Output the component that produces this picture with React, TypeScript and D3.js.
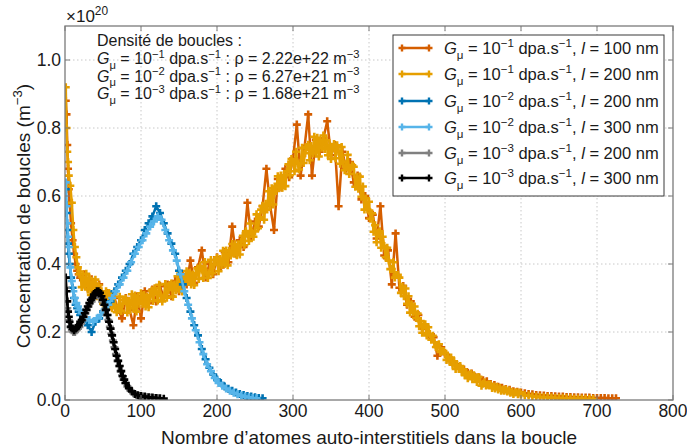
import React from 'react';
import * as d3 from 'd3';

const W = 687;
const H = 448;
const M = { left: 65, right: 14, top: 26, bottom: 48 };

const X_TICKS = [0, 100, 200, 300, 400, 500, 600, 700, 800];
const Y_TICKS = [0, 0.2, 0.4, 0.6, 0.8, 1.0];
const X_DOMAIN = [0, 800];
const Y_DOMAIN = [0, 1.1];

// loop sizes (number of self-interstitial atoms), G = 1e-1, l = 100 nm
const N_G1_L100 = [1, 2, 3, 4, 5, 6, 8, 10, 12, 14, 16, 18, 20,
  25, 30, 35, 40, 45, 50, 55, 60, 65, 70, 75, 80, 85, 90, 95, 100,
  105, 110, 115, 120, 125, 130, 135, 140, 145, 150, 155, 160, 165, 170, 175, 180, 185, 190, 195, 200,
  205, 210, 215, 220, 225, 230, 235, 240, 245, 250, 255, 260, 265, 270, 275, 280, 285, 290, 295, 300,
  305, 310, 315, 320, 325, 330, 335, 340, 345, 350, 355, 360, 365, 370, 375, 380, 385, 390, 395, 400,
  405, 410, 415, 420, 425, 430, 435, 440, 445, 450, 455, 460, 465, 470, 475, 480, 485, 490, 495, 500,
  505, 510, 515, 520, 525, 530, 535, 540, 545, 550, 555, 560, 565, 570, 575, 580, 585, 590, 595, 600,
  605, 610, 615, 620, 625, 630, 635, 640, 645, 650, 655, 660, 665, 670, 675, 680, 685, 690, 695, 700,
  705, 710, 715, 720, 725];

// concentrations in units of 1e20 m^-3
const G1_L100 = [0.88, 0.84, 0.75, 0.68, 0.62, 0.58, 0.52, 0.47, 0.43, 0.40, 0.38, 0.37, 0.36,
  0.37, 0.33, 0.355, 0.32, 0.34, 0.30, 0.315, 0.275, 0.30, 0.265, 0.24, 0.30, 0.265, 0.22, 0.305, 0.24,
  0.32, 0.285, 0.325, 0.29, 0.335, 0.30, 0.34, 0.305, 0.35, 0.32, 0.37, 0.34, 0.41, 0.345, 0.39, 0.44, 0.36, 0.40, 0.37, 0.42,
  0.39, 0.435, 0.405, 0.51, 0.43, 0.47, 0.45, 0.58, 0.48, 0.525, 0.51, 0.57, 0.68, 0.57, 0.50, 0.65, 0.625, 0.68, 0.655, 0.71,
  0.81, 0.66, 0.74, 0.84, 0.66, 0.765, 0.73, 0.77, 0.82, 0.72, 0.75, 0.57, 0.73, 0.68, 0.70, 0.64, 0.66, 0.59, 0.60, 0.535,
  0.545, 0.475, 0.57, 0.425, 0.44, 0.34, 0.49, 0.33, 0.335, 0.28, 0.29, 0.245, 0.25, 0.21, 0.215, 0.185, 0.185, 0.13, 0.155, 0.135,
  0.125, 0.11, 0.105, 0.095, 0.09, 0.08, 0.078, 0.067, 0.066, 0.058, 0.055, 0.047, 0.044, 0.039, 0.036, 0.032, 0.03, 0.026, 0.024, 0.022,
  0.02, 0.018, 0.017, 0.015, 0.014, 0.013, 0.012, 0.012, 0.011, 0.01, 0.01, 0.009, 0.009, 0.008, 0.008, 0.007, 0.007, 0.007, 0.006, 0.006,
  0.006, 0.006, 0.005, 0.005, 0.005];

// G = 1e-1, l = 200 nm
const N_G1_L200 = [1, 2, 3, 4, 5, 7, 9, 11, 13, 15, 17, 19,
  20, 22, 24, 26, 28, 30, 32, 34, 36, 38, 40, 42, 44, 46, 48, 50, 52, 54, 56, 58,
  60, 62, 64, 66, 68, 70, 72, 74, 76, 78, 80, 82, 84, 86, 88, 90, 92, 94, 96, 98,
  100, 102, 104, 106, 108, 110, 112, 114, 116, 118, 120, 122, 124, 126, 128, 130, 132, 134, 136, 138,
  140, 142, 144, 146, 148, 150, 152, 154, 156, 158, 160, 162, 164, 166, 168, 170, 172, 174, 176, 178,
  180, 182, 184, 186, 188, 190, 192, 194, 196, 198, 200, 202, 204, 206, 208, 210, 212, 214, 216, 218,
  220, 222, 224, 226, 228, 230, 232, 234, 236, 238, 240, 242, 244, 246, 248, 250, 252, 254, 256, 258,
  260, 262, 264, 266, 268, 270, 272, 274, 276, 278, 280, 282, 284, 286, 288, 290, 292, 294, 296, 298,
  300, 302, 304, 306, 308, 310, 312, 314, 316, 318, 320, 322, 324, 326, 328, 330, 332, 334, 336, 338,
  340, 342, 344, 346, 348, 350, 352, 354, 356, 358, 360, 362, 364, 366, 368, 370, 372, 374, 376, 378,
  380, 382, 384, 386, 388, 390, 392, 394, 396, 398, 400, 402, 404, 406, 408, 410, 412, 414, 416, 418,
  420, 422, 424, 426, 428, 430, 432, 434, 436, 438, 440, 442, 444, 446, 448, 450, 452, 454, 456, 458,
  460, 462, 464, 466, 468, 470, 472, 474, 476, 478, 480, 482, 484, 486, 488, 490, 492, 494, 496, 498,
  500, 502, 504, 506, 508, 510, 512, 514, 516, 518, 520, 522, 524, 526, 528, 530, 532, 534, 536, 538,
  540, 542, 544, 546, 548, 550, 552, 554, 556, 558, 560, 562, 564, 566, 568, 570, 572, 574, 576, 578,
  580, 582, 584, 586, 588, 590, 592, 594, 596, 598,
  600, 605, 610, 615, 620, 625, 630, 635, 640, 645, 650, 655, 660, 665, 670, 675, 680, 685, 690, 695];

const G1_L200 = [0.92, 0.80, 0.73, 0.70, 0.66, 0.63, 0.58, 0.50, 0.45, 0.42, 0.39, 0.37,
  0.378, 0.332, 0.361, 0.336, 0.371, 0.325, 0.359, 0.309, 0.346, 0.326, 0.354, 0.317, 0.337, 0.297, 0.320, 0.283, 0.312, 0.320, 0.283, 0.315,
  0.299, 0.270, 0.313, 0.278, 0.258, 0.268, 0.304, 0.262, 0.283, 0.295, 0.298, 0.257, 0.291, 0.271, 0.311, 0.270, 0.307, 0.260, 0.300, 0.283,
  0.314, 0.283, 0.309, 0.275, 0.304, 0.273, 0.308, 0.322, 0.291, 0.329, 0.319, 0.293, 0.339, 0.307, 0.290, 0.303, 0.341, 0.301, 0.324, 0.338,
  0.343, 0.304, 0.340, 0.322, 0.364, 0.325, 0.364, 0.319, 0.361, 0.346, 0.379, 0.348, 0.374, 0.340, 0.369, 0.338, 0.373, 0.387, 0.356, 0.394,
  0.384, 0.359, 0.406, 0.375, 0.359, 0.373, 0.412, 0.373, 0.397, 0.412, 0.418, 0.379, 0.415, 0.397, 0.439, 0.400, 0.440, 0.396, 0.439, 0.425,
  0.459, 0.430, 0.458, 0.426, 0.457, 0.428, 0.466, 0.483, 0.455, 0.496, 0.489, 0.468, 0.519, 0.492, 0.480, 0.496, 0.546, 0.505, 0.538, 0.560,
  0.571, 0.530, 0.577, 0.560, 0.614, 0.573, 0.623, 0.575, 0.628, 0.615, 0.658, 0.626, 0.660, 0.624, 0.661, 0.629, 0.673, 0.693, 0.661, 0.709,
  0.701, 0.673, 0.730, 0.695, 0.678, 0.696, 0.742, 0.697, 0.726, 0.744, 0.751, 0.705, 0.747, 0.725, 0.774, 0.728, 0.771, 0.716, 0.762, 0.742,
  0.778, 0.738, 0.764, 0.720, 0.749, 0.709, 0.743, 0.753, 0.711, 0.749, 0.731, 0.695, 0.744, 0.701, 0.676, 0.686, 0.721, 0.665, 0.683, 0.690,
  0.686, 0.627, 0.656, 0.621, 0.657, 0.598, 0.628, 0.560, 0.593, 0.560, 0.583, 0.533, 0.549, 0.495, 0.514, 0.464, 0.492, 0.496, 0.448, 0.480,
  0.453, 0.420, 0.448, 0.410, 0.385, 0.385, 0.405, 0.360, 0.368, 0.368, 0.360, 0.315, 0.333, 0.305, 0.328, 0.283, 0.305, 0.257, 0.281, 0.258,
  0.275, 0.241, 0.254, 0.217, 0.232, 0.198, 0.219, 0.223, 0.190, 0.214, 0.194, 0.177, 0.189, 0.170, 0.156, 0.155, 0.164, 0.141, 0.144, 0.144,
  0.139, 0.118, 0.127, 0.114, 0.125, 0.104, 0.114, 0.091, 0.103, 0.092, 0.100, 0.083, 0.090, 0.073, 0.080, 0.064, 0.074, 0.077, 0.061, 0.073,
  0.066, 0.053, 0.068, 0.053, 0.042, 0.048, 0.052, 0.043, 0.045, 0.046, 0.044, 0.035, 0.040, 0.034, 0.039, 0.031, 0.036, 0.027, 0.031, 0.027,
  0.031, 0.025, 0.028, 0.021, 0.024, 0.018, 0.022, 0.023, 0.017, 0.022,
  0.016, 0.014, 0.013, 0.011, 0.010, 0.009, 0.008, 0.008, 0.007, 0.006, 0.006, 0.005, 0.005, 0.005, 0.004, 0.004, 0.004, 0.003, 0.003, 0.003];

// G = 1e-2, l = 200 nm
const N_G2_L200 = [1, 2, 3, 4, 5, 6, 8, 10, 12, 14, 16, 18, 20,
  25, 30, 35, 40, 45, 50, 55, 60, 65, 70, 75, 80, 85, 90, 95, 100,
  105, 110, 115, 120, 125, 130, 135, 140, 145, 150, 155, 160, 165, 170, 175, 180, 185, 190, 195, 200,
  205, 210, 215, 220, 225, 230, 235, 240, 245, 250, 255, 260];

const G2_L200 = [0.62, 0.55, 0.50, 0.46, 0.43, 0.40, 0.36, 0.33, 0.30, 0.28, 0.27, 0.26, 0.25,
  0.24, 0.22, 0.20, 0.23, 0.24, 0.26, 0.28, 0.29, 0.32, 0.34, 0.36, 0.38, 0.40, 0.43, 0.45, 0.47,
  0.50, 0.52, 0.54, 0.57, 0.55, 0.52, 0.49, 0.46, 0.43, 0.38, 0.34, 0.30, 0.26, 0.22, 0.19, 0.15, 0.12, 0.095, 0.075, 0.06,
  0.05, 0.04, 0.033, 0.027, 0.022, 0.018, 0.015, 0.012, 0.01, 0.008, 0.006, 0.005];

// G = 1e-2, l = 300 nm
const N_G2_L300 = [1, 2, 3, 4, 5, 7, 9, 11, 13, 15, 17, 19,
  22, 27, 32, 37, 42, 47, 52, 57, 62, 67, 72, 77, 82, 87, 92, 97,
  102, 107, 112, 117, 122, 127, 132, 137, 142, 147, 152, 157, 162, 167, 172, 177, 182, 187, 192, 197,
  202, 207, 212, 217, 222, 227, 232, 237, 242, 247, 252];

const G2_L300 = [0.64, 0.57, 0.52, 0.48, 0.45, 0.39, 0.35, 0.32, 0.30, 0.285, 0.275, 0.265,
  0.255, 0.24, 0.235, 0.23, 0.24, 0.25, 0.265, 0.28, 0.30, 0.32, 0.34, 0.36, 0.38, 0.405, 0.43, 0.45,
  0.47, 0.49, 0.51, 0.525, 0.54, 0.53, 0.50, 0.47, 0.44, 0.41, 0.37, 0.32, 0.28, 0.24, 0.205, 0.17, 0.135, 0.105, 0.085, 0.065,
  0.05, 0.042, 0.034, 0.027, 0.021, 0.017, 0.013, 0.01, 0.008, 0.006, 0.005];

// G = 1e-3, l = 200 nm
const N_G3_L200 = [1, 3, 5, 7, 9, 11, 13, 15, 17, 19, 21, 23, 25, 27, 29, 31, 33, 35, 37, 39,
  41, 43, 45, 47, 49, 51, 53, 55, 57, 59, 61, 63, 65, 67, 69, 71, 73, 75, 77, 79,
  82, 86, 90, 94, 98, 102, 107, 112, 117, 122];

const G3_L200 = [0.33, 0.27, 0.235, 0.215, 0.205, 0.20, 0.20, 0.205, 0.21, 0.215, 0.225, 0.235, 0.245, 0.255, 0.265, 0.275, 0.285, 0.29, 0.30, 0.305,
  0.31, 0.31, 0.305, 0.30, 0.29, 0.28, 0.265, 0.25, 0.235, 0.215, 0.195, 0.175, 0.155, 0.135, 0.115, 0.10, 0.085, 0.072, 0.06, 0.05,
  0.04, 0.028, 0.02, 0.015, 0.012, 0.01, 0.008, 0.007, 0.006, 0.005];

// G = 1e-3, l = 300 nm
const N_G3_L300 = [1, 2, 3, 4, 5, 6, 8, 10, 12, 14, 16, 18, 20, 22, 24, 26, 28, 30, 32, 34, 36, 38, 40,
  42, 44, 46, 48, 50, 52, 54, 56, 58, 60, 62, 64, 66, 68, 70, 72, 74, 76, 78, 80, 84, 88, 92, 96, 100,
  105, 110, 115, 120, 125, 130];

const G3_L300 = [0.36, 0.32, 0.29, 0.26, 0.245, 0.23, 0.215, 0.21, 0.205, 0.21, 0.215, 0.22, 0.23, 0.235, 0.245, 0.255, 0.265, 0.275, 0.285, 0.295, 0.30, 0.31, 0.315,
  0.32, 0.32, 0.315, 0.305, 0.295, 0.28, 0.265, 0.25, 0.23, 0.21, 0.19, 0.17, 0.15, 0.13, 0.115, 0.10, 0.085, 0.07, 0.06, 0.05, 0.035, 0.025, 0.018, 0.014, 0.012,
  0.01, 0.008, 0.007, 0.006, 0.005, 0.004];

const SERIES_EXP = ['−1', '−1', '−2', '−2', '−3', '−3'];
const SERIES_L = ['100', '200', '200', '300', '200', '300'];
const SERIES_COLORS = ['#D55E00', '#E69F00', '#0072B2', '#56B4E9', '#808080', '#000000'];
const SERIES_N = [N_G1_L100, N_G1_L200, N_G2_L200, N_G2_L300, N_G3_L200, N_G3_L300];
const SERIES_V = [G1_L100, G1_L200, G2_L200, G2_L300, G3_L200, G3_L300];

const DENS_EXP = ['−1', '−2', '−3'];
const DENS_RHO = ['2.22e+22', '6.27e+21', '1.68e+21'];

const FONT = '"Liberation Sans", Arial, Helvetica, sans-serif';

type Seg = { t: string; it?: boolean; pos?: 'sub' | 'sup' };

function RichText({ x, y, segs, size, anchor }: { x: number; y: number; segs: Seg[]; size: number; anchor?: string }) {
  let cur = 0;
  const small = size * 0.7;
  return (
    <text x={x} y={y} fontSize={size} fontFamily={FONT} fill="#1a1a1a" textAnchor={anchor || 'start'}>
      {segs.map((s, i) => {
        const target = s.pos === 'sub' ? size * 0.3 : s.pos === 'sup' ? -size * 0.4 : 0;
        const dy = target - cur;
        cur = target;
        return (
          <tspan key={i} dy={dy} fontStyle={s.it ? 'italic' : 'normal'} fontSize={s.pos ? small : size}>
            {s.t}
          </tspan>
        );
      })}
    </text>
  );
}

function plusPath(pts: [number, number][], s: number) {
  return pts.map(([x, y]) => `M${x - s},${y}H${x + s}M${x},${y - s}V${y + s}`).join('');
}

export default function App() {
  const x = d3.scaleLinear().domain(X_DOMAIN).range([M.left, W - M.right]);
  const y = d3.scaleLinear().domain(Y_DOMAIN).range([H - M.bottom, M.top]);
  const line = d3.line<[number, number]>().x(d => d[0]).y(d => d[1]);
  const fmtY = d3.format('.1f');

  const series = SERIES_V.map((vals, i) => {
    const pts: [number, number][] = vals.map((v, j) => [x(SERIES_N[i][j]), y(v)]);
    return { pts, color: SERIES_COLORS[i] };
  });

  const pl = M.left, pr = W - M.right, pt = M.top, pb = H - M.bottom;
  const axisColor = '#7a7a7a';

  const legX = 393, legY = 35, legW = 271, legH = 161;
  const rowY = [48, 74, 101, 127, 153, 178];

  return (
    <svg width={W} height={H} style={{ position: 'absolute', left: 0, top: 0, background: '#fff' }}>
      <defs>
        <clipPath id="plotclip">
          <rect x={pl} y={pt} width={pr - pl} height={pb - pt} />
        </clipPath>
      </defs>
      <rect x={0} y={0} width={W} height={H} fill="#fff" />
      {/* grid */}
      <g stroke="#c8c8c8" strokeWidth={1} strokeDasharray="1.5,2.5">
        {X_TICKS.slice(1, -1).map(t => (
          <line key={'gx' + t} x1={x(t)} x2={x(t)} y1={pt} y2={pb} />
        ))}
        {Y_TICKS.slice(1).map(t => (
          <line key={'gy' + t} x1={pl} x2={pr} y1={y(t)} y2={y(t)} />
        ))}
      </g>
      {/* data */}
      <g clipPath="url(#plotclip)">
        {series.map((s, i) => (
          <g key={i}>
            <path d={line(s.pts) || ''} fill="none" stroke={s.color} strokeWidth={2.5} strokeLinejoin="round" />
            <path d={plusPath(s.pts, 4)} fill="none" stroke={s.color} strokeWidth={2.6} />
          </g>
        ))}
      </g>
      {/* axes box */}
      <rect x={pl} y={pt} width={pr - pl} height={pb - pt} fill="none" stroke={axisColor} strokeWidth={1.3} />
      {X_TICKS.map(t => (
        <g key={'tx' + t}>
          <line x1={x(t)} x2={x(t)} y1={pb} y2={pb - 5} stroke={axisColor} />
          <line x1={x(t)} x2={x(t)} y1={pt} y2={pt + 5} stroke={axisColor} />
          <text x={x(t)} y={pb + 17} fontSize={17.5} fontFamily={FONT} textAnchor="middle" fill="#1a1a1a">{t}</text>
        </g>
      ))}
      {Y_TICKS.map(t => (
        <g key={'ty' + t}>
          <line x1={pl} x2={pl + 5} y1={y(t)} y2={y(t)} stroke={axisColor} />
          <line x1={pr} x2={pr - 5} y1={y(t)} y2={y(t)} stroke={axisColor} />
          <text x={pl - 4} y={y(t) + 6} fontSize={17.5} fontFamily={FONT} textAnchor="end" fill="#1a1a1a">{fmtY(t)}</text>
        </g>
      ))}
      {/* exponent */}
      <RichText x={pl + 1} y={pt - 4} size={17} segs={[{ t: '×10' }, { t: '20', pos: 'sup' }]} />
      {/* axis labels */}
      <text x={(pl + pr) / 2} y={H - 4} fontSize={19} fontFamily={FONT} textAnchor="middle" fill="#1a1a1a">
        Nombre d’atomes auto-interstitiels dans la boucle
      </text>
      <g transform={`translate(30, ${(pt + pb) / 2 + 3}) rotate(-90)`}>
        <RichText x={0} y={0} size={19} anchor="middle" segs={[{ t: 'Concentration de boucles (m' }, { t: '−3', pos: 'sup' }, { t: ')' }]} />
      </g>
      {/* density annotation */}
      <text x={97} y={46} fontSize={16} fontFamily={FONT} fill="#1a1a1a">Densité de boucles :</text>
      {DENS_EXP.map((e, i) => (
        <RichText key={'d' + i} x={97} y={64 + i * 17.5} size={16} segs={[
          { t: 'G', it: true }, { t: 'μ', pos: 'sub' }, { t: ' = 10' }, { t: e, pos: 'sup' }, { t: ' dpa.s' }, { t: '−1', pos: 'sup' },
          { t: ' : ρ = ' + DENS_RHO[i] + ' m' }, { t: '−3', pos: 'sup' },
        ]} />
      ))}
      {/* legend */}
      <rect x={legX} y={legY} width={legW} height={legH} fill="#fff" stroke="#3a3a3a" strokeWidth={1} />
      {SERIES_COLORS.map((c, i) => (
        <g key={'l' + i}>
          <line x1={401} x2={430} y1={rowY[i]} y2={rowY[i]} stroke={c} strokeWidth={2.5} />
          <path d={plusPath([[402, rowY[i]], [429, rowY[i]]], 3.5)} stroke={c} strokeWidth={2.4} fill="none" />
          <RichText x={444} y={rowY[i] + 6} size={16.5} segs={[
            { t: 'G', it: true }, { t: 'μ', pos: 'sub' }, { t: ' = 10' }, { t: SERIES_EXP[i], pos: 'sup' }, { t: ' dpa.s' }, { t: '−1', pos: 'sup' },
            { t: ', ' }, { t: 'l', it: true }, { t: ' = ' + SERIES_L[i] + ' nm' },
          ]} />
        </g>
      ))}
    </svg>
  );
}
